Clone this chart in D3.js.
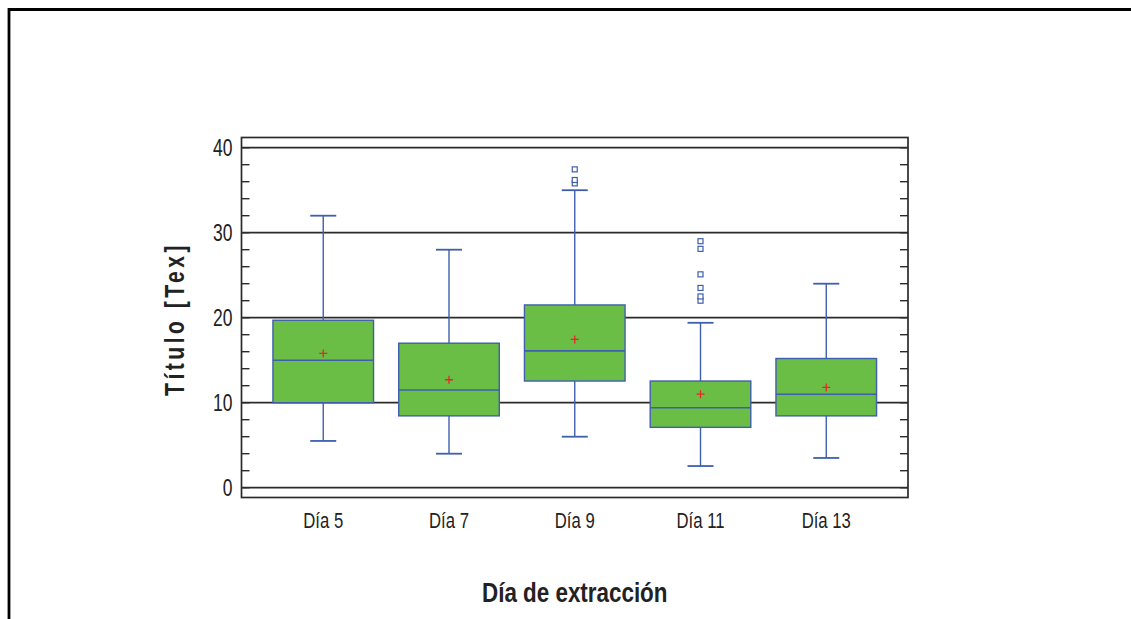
<!DOCTYPE html>
<html>
<head>
<meta charset="utf-8">
<script src="https://cdn.jsdelivr.net/npm/d3@7"></script>
<style>
  body { margin: 0; background: #fff; }
  svg { display: block; }
  text { font-family: "Liberation Sans", Arial, sans-serif; }
</style>
</head>
<body>
<script>
// chart values
var categories = ["Día 5", "Día 7", "Día 9", "Día 11", "Día 13"];
var whiskerLow  = [5.5, 4.0, 6.0, 2.55, 3.5];
var q1Values    = [10.0, 8.45, 12.55, 7.1, 8.45];
var medians     = [15.0, 11.5, 16.1, 9.4, 11.0];
var q3Values    = [19.7, 17.0, 21.5, 12.55, 15.2];
var whiskerHigh = [32.0, 28.0, 35.0, 19.4, 24.0];
var means       = [15.8, 12.7, 17.45, 11.0, 11.8];
var outliers    = [[], [], [35.8, 36.2, 37.45], [22.0, 22.5, 23.5, 25.1, 28.1, 29.0], []];
var yTicks      = [0, 10, 20, 30, 40];
var yMinorTicks = d3.range(0, 41, 2);

var width = 1131, height = 619;
var plotLeft = 241.5, plotRight = 908, plotTop = 137.5, plotBottom = 497.5;

var boxColor = "#6abd45",
    lineColor = "#3f5fae",
    gridColor = "#2b2b2b",
    textColor = "#222";

// the original uses a condensed face, squeeze the text horizontally
var narrow = 0.76;

var svg = d3.select("body").append("svg")
  .attr("width", width)
  .attr("height", height);

// outer frame (only left and top show inside the window)
svg.append("path")
  .attr("d", "M9," + (height + 5) + " V9.5 H" + (width + 5))
  .attr("fill", "none")
  .attr("stroke", "#000")
  .attr("stroke-width", 2.8);

var x = d3.scalePoint()
  .domain(categories)
  .range([plotLeft, plotRight])
  .padding(0.65);

var y = d3.scaleLinear()
  .domain([0, 40])
  .range([487.7, 147.7]);

var step = x.step();
var boxW = step * 0.8;
var capW = 26;

// gridlines at major ticks
svg.append("g").selectAll("line")
  .data(yTicks)
  .enter().append("line")
  .attr("x1", plotLeft).attr("x2", plotRight)
  .attr("y1", function (d) { return y(d); })
  .attr("y2", function (d) { return y(d); })
  .attr("stroke", gridColor)
  .attr("stroke-width", 1.7);

// minor ticks on both sides, pointing inward
var minor = svg.append("g");
minor.selectAll(".lt")
  .data(yMinorTicks)
  .enter().append("line")
  .attr("x1", plotLeft).attr("x2", plotLeft + 8)
  .attr("y1", function (d) { return y(d); })
  .attr("y2", function (d) { return y(d); })
  .attr("stroke", gridColor).attr("stroke-width", 1.4);
minor.selectAll(".rt")
  .data(yMinorTicks)
  .enter().append("line")
  .attr("x1", plotRight - 8).attr("x2", plotRight)
  .attr("y1", function (d) { return y(d); })
  .attr("y2", function (d) { return y(d); })
  .attr("stroke", gridColor).attr("stroke-width", 1.4);

// y tick labels
svg.append("g").selectAll("text")
  .data(yTicks)
  .enter().append("text")
  .attr("transform", function (d) {
    return "translate(" + (plotLeft - 9) + "," + y(d) + ") scale(" + narrow + ",1)";
  })
  .attr("dy", "0.36em")
  .attr("text-anchor", "end")
  .style("font-size", "23px")
  .attr("fill", textColor)
  .text(function (d) { return d; });

// plot frame
svg.append("rect")
  .attr("x", plotLeft).attr("y", plotTop)
  .attr("width", plotRight - plotLeft)
  .attr("height", plotBottom - plotTop)
  .attr("fill", "none")
  .attr("stroke", gridColor)
  .attr("stroke-width", 1.7);

// boxes
var rows = categories.map(function (c, i) {
  return { cat: c, lo: whiskerLow[i], q1: q1Values[i], med: medians[i], q3: q3Values[i],
           hi: whiskerHigh[i], mean: means[i], out: outliers[i] };
});

var g = svg.append("g").selectAll("g")
  .data(rows)
  .enter().append("g");

// whiskers
g.append("line")
  .attr("x1", function (d) { return x(d.cat); })
  .attr("x2", function (d) { return x(d.cat); })
  .attr("y1", function (d) { return y(d.hi); })
  .attr("y2", function (d) { return y(d.lo); })
  .attr("stroke", lineColor).attr("stroke-width", 1.4);
g.append("line")
  .attr("x1", function (d) { return x(d.cat) - capW / 2; })
  .attr("x2", function (d) { return x(d.cat) + capW / 2; })
  .attr("y1", function (d) { return y(d.hi); })
  .attr("y2", function (d) { return y(d.hi); })
  .attr("stroke", lineColor).attr("stroke-width", 1.8);
g.append("line")
  .attr("x1", function (d) { return x(d.cat) - capW / 2; })
  .attr("x2", function (d) { return x(d.cat) + capW / 2; })
  .attr("y1", function (d) { return y(d.lo); })
  .attr("y2", function (d) { return y(d.lo); })
  .attr("stroke", lineColor).attr("stroke-width", 1.8);

g.append("rect")
  .attr("x", function (d) { return x(d.cat) - boxW / 2; })
  .attr("y", function (d) { return y(d.q3); })
  .attr("width", boxW)
  .attr("height", function (d) { return y(d.q1) - y(d.q3); })
  .attr("fill", boxColor)
  .attr("stroke", lineColor)
  .attr("stroke-width", 1.4);

g.append("line")
  .attr("x1", function (d) { return x(d.cat) - boxW / 2; })
  .attr("x2", function (d) { return x(d.cat) + boxW / 2; })
  .attr("y1", function (d) { return y(d.med); })
  .attr("y2", function (d) { return y(d.med); })
  .attr("stroke", lineColor).attr("stroke-width", 1.6);

// mean marker
g.append("path")
  .attr("d", function (d) {
    var cx = x(d.cat), cy = y(d.mean);
    return "M" + (cx - 4) + "," + cy + "H" + (cx + 4) + "M" + cx + "," + (cy - 4) + "V" + (cy + 4);
  })
  .attr("stroke", "#e8262a").attr("stroke-width", 1.3);

// outliers
g.selectAll(".out")
  .data(function (d) { return d.out.map(function (v) { return { cat: d.cat, v: v }; }); })
  .enter().append("rect")
  .attr("x", function (d) { return x(d.cat) - 2.5; })
  .attr("y", function (d) { return y(d.v) - 2.5; })
  .attr("width", 5).attr("height", 5)
  .attr("fill", "#fff")
  .attr("stroke", lineColor).attr("stroke-width", 1.2);

// x tick labels
svg.append("g").selectAll("text")
  .data(categories)
  .enter().append("text")
  .attr("transform", function (d) {
    return "translate(" + x(d) + ",528) scale(" + narrow + ",1)";
  })
  .attr("text-anchor", "middle")
  .style("font-size", "22px")
  .attr("fill", textColor)
  .text(function (d) { return d; });

// axis titles
svg.append("text")
  .attr("transform", "translate(" + x("Día 9") + ",602) scale(0.8,1)")
  .attr("text-anchor", "middle")
  .style("font-size", "28px")
  .style("font-weight", "bold")
  .attr("fill", textColor)
  .text("Día de extracción");

svg.append("text")
  .attr("transform", "translate(184,319) rotate(-90) scale(0.78,1)")
  .attr("text-anchor", "middle")
  .style("font-size", "27px")
  .style("font-weight", "bold")
  .style("letter-spacing", "4.5px")
  .attr("fill", textColor)
  .text("Título [Tex]");
</script>
</body>
</html>
